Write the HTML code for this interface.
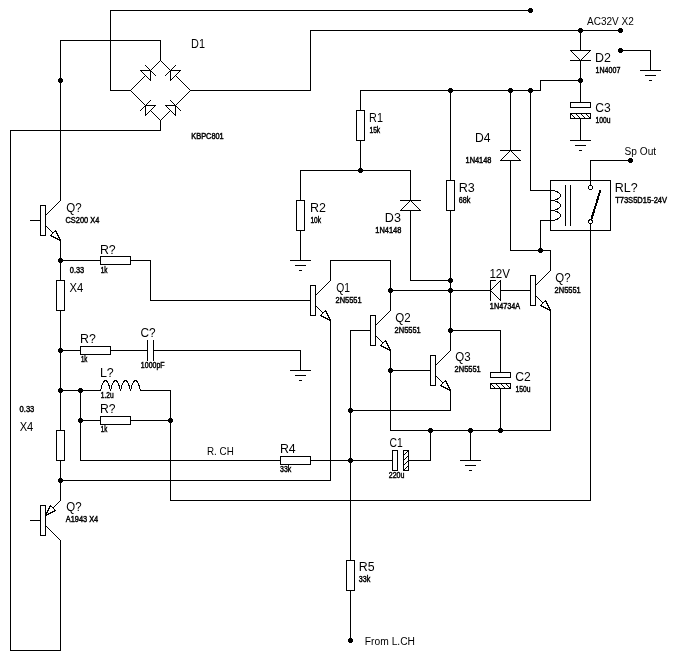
<!DOCTYPE html>
<html lang="en">
<head>
<meta charset="utf-8">
<title>Schematic</title>
<style>
html,body{margin:0;padding:0;background:#fff;}
body{width:690px;height:670px;overflow:hidden;}
svg{display:block;}
text{font-family:"Liberation Sans",sans-serif;fill:#000;}
text{font-kerning:none;}
.l{font-size:12.5px;}
.s{font-size:8.4px;stroke:#000;stroke-width:.45px;}
.m{font-size:10px;}
</style>
</head>
<body>
<svg width="690" height="670" viewBox="0 0 690 670">
<rect width="690" height="670" fill="#fff"/>
<g fill="#000" stroke="none" shape-rendering="crispEdges">
<rect x="110" y="10" width="421" height="1"/>
<rect x="110" y="10" width="1" height="81"/>
<rect x="110" y="90" width="21" height="1"/>
<rect x="160" y="40" width="1" height="21"/>
<rect x="60" y="40" width="101" height="1"/>
<rect x="60" y="40" width="1" height="161"/>
<rect x="160" y="120" width="1" height="11"/>
<rect x="10" y="130" width="151" height="1"/>
<rect x="10" y="130" width="1" height="521"/>
<rect x="10" y="650" width="51" height="1"/>
<rect x="60" y="540" width="1" height="111"/>
<rect x="190" y="90" width="121" height="1"/>
<rect x="310" y="30" width="1" height="61"/>
<rect x="310" y="30" width="311" height="1"/>
<rect x="580" y="30" width="1" height="73"/>
<rect x="580" y="118" width="1" height="23"/>
<rect x="570" y="140" width="21" height="1"/>
<rect x="575" y="145" width="11" height="1"/>
<rect x="579" y="150" width="3" height="1"/>
<rect x="570" y="60" width="21" height="1"/>
<rect x="570" y="102" width="21" height="6"/>
<rect x="571" y="103" width="19" height="4" fill="#fff"/>
<rect x="570" y="113" width="21" height="6"/>
<rect x="571" y="114" width="19" height="4" fill="#fff"/>
<rect x="571" y="114" width="1" height="1"/>
<rect x="572" y="115" width="1" height="1"/>
<rect x="573" y="116" width="1" height="1"/>
<rect x="574" y="117" width="1" height="1"/>
<rect x="576" y="114" width="1" height="1"/>
<rect x="577" y="115" width="1" height="1"/>
<rect x="578" y="116" width="1" height="1"/>
<rect x="579" y="117" width="1" height="1"/>
<rect x="581" y="114" width="1" height="1"/>
<rect x="582" y="115" width="1" height="1"/>
<rect x="583" y="116" width="1" height="1"/>
<rect x="584" y="117" width="1" height="1"/>
<rect x="586" y="114" width="1" height="1"/>
<rect x="587" y="115" width="1" height="1"/>
<rect x="588" y="116" width="1" height="1"/>
<rect x="589" y="117" width="1" height="1"/>
<rect x="620" y="50" width="31" height="1"/>
<rect x="650" y="50" width="1" height="21"/>
<rect x="640" y="70" width="21" height="1"/>
<rect x="645" y="75" width="11" height="1"/>
<rect x="649" y="80" width="3" height="1"/>
<rect x="540" y="80" width="41" height="1"/>
<rect x="540" y="80" width="1" height="11"/>
<rect x="360" y="90" width="181" height="1"/>
<rect x="360" y="90" width="1" height="81"/>
<rect x="356" y="110" width="9" height="31"/>
<rect x="357" y="111" width="7" height="29" fill="#fff"/>
<rect x="300" y="170" width="1" height="91"/>
<rect x="300" y="170" width="111" height="1"/>
<rect x="410" y="170" width="1" height="111"/>
<rect x="410" y="280" width="41" height="1"/>
<rect x="296" y="200" width="9" height="31"/>
<rect x="297" y="201" width="7" height="29" fill="#fff"/>
<rect x="290" y="260" width="21" height="1"/>
<rect x="295" y="265" width="11" height="1"/>
<rect x="299" y="270" width="3" height="1"/>
<rect x="400" y="200" width="21" height="1"/>
<rect x="450" y="90" width="1" height="261"/>
<rect x="446" y="180" width="9" height="31"/>
<rect x="447" y="181" width="7" height="29" fill="#fff"/>
<rect x="510" y="90" width="1" height="161"/>
<rect x="510" y="250" width="41" height="1"/>
<rect x="550" y="250" width="1" height="21"/>
<rect x="500" y="150" width="21" height="1"/>
<rect x="530" y="90" width="1" height="101"/>
<rect x="530" y="190" width="21" height="1"/>
<rect x="540" y="220" width="1" height="31"/>
<rect x="540" y="220" width="11" height="1"/>
<rect x="550" y="180" width="61" height="51"/>
<rect x="551" y="181" width="59" height="49" fill="#fff"/>
<rect x="565" y="185" width="1" height="41"/>
<rect x="570" y="185" width="1" height="41"/>
<rect x="590" y="160" width="41" height="1"/>
<rect x="590" y="160" width="1" height="26"/>
<rect x="590" y="224" width="1" height="277"/>
<rect x="170" y="500" width="421" height="1"/>
<rect x="170" y="390" width="1" height="111"/>
<rect x="390" y="290" width="101" height="1"/>
<rect x="500" y="290" width="31" height="1"/>
<rect x="490" y="280" width="1" height="21"/>
<rect x="490" y="280" width="6" height="1"/>
<rect x="530" y="275" width="6" height="31"/>
<rect x="531" y="276" width="4" height="29" fill="#fff"/>
<rect x="550" y="310" width="1" height="121"/>
<rect x="390" y="430" width="161" height="1"/>
<rect x="390" y="350" width="1" height="81"/>
<rect x="470" y="430" width="1" height="31"/>
<rect x="460" y="460" width="21" height="1"/>
<rect x="465" y="465" width="11" height="1"/>
<rect x="469" y="470" width="3" height="1"/>
<rect x="60" y="260" width="91" height="1"/>
<rect x="150" y="260" width="1" height="41"/>
<rect x="150" y="300" width="161" height="1"/>
<rect x="100" y="256" width="31" height="9"/>
<rect x="101" y="257" width="29" height="7" fill="#fff"/>
<rect x="310" y="285" width="6" height="31"/>
<rect x="311" y="286" width="4" height="29" fill="#fff"/>
<rect x="330" y="260" width="1" height="21"/>
<rect x="330" y="260" width="61" height="1"/>
<rect x="390" y="260" width="1" height="51"/>
<rect x="330" y="320" width="1" height="161"/>
<rect x="60" y="480" width="271" height="1"/>
<rect x="350" y="330" width="21" height="1"/>
<rect x="370" y="315" width="6" height="31"/>
<rect x="371" y="316" width="4" height="29" fill="#fff"/>
<rect x="390" y="370" width="41" height="1"/>
<rect x="430" y="355" width="6" height="31"/>
<rect x="431" y="356" width="4" height="29" fill="#fff"/>
<rect x="450" y="390" width="1" height="21"/>
<rect x="350" y="410" width="101" height="1"/>
<rect x="450" y="330" width="51" height="1"/>
<rect x="500" y="330" width="1" height="43"/>
<rect x="500" y="388" width="1" height="43"/>
<rect x="490" y="372" width="21" height="6"/>
<rect x="491" y="373" width="19" height="4" fill="#fff"/>
<rect x="490" y="383" width="21" height="6"/>
<rect x="491" y="384" width="19" height="4" fill="#fff"/>
<rect x="491" y="384" width="1" height="1"/>
<rect x="492" y="385" width="1" height="1"/>
<rect x="493" y="386" width="1" height="1"/>
<rect x="494" y="387" width="1" height="1"/>
<rect x="496" y="384" width="1" height="1"/>
<rect x="497" y="385" width="1" height="1"/>
<rect x="498" y="386" width="1" height="1"/>
<rect x="499" y="387" width="1" height="1"/>
<rect x="501" y="384" width="1" height="1"/>
<rect x="502" y="385" width="1" height="1"/>
<rect x="503" y="386" width="1" height="1"/>
<rect x="504" y="387" width="1" height="1"/>
<rect x="506" y="384" width="1" height="1"/>
<rect x="507" y="385" width="1" height="1"/>
<rect x="508" y="386" width="1" height="1"/>
<rect x="509" y="387" width="1" height="1"/>
<rect x="350" y="330" width="1" height="311"/>
<rect x="346" y="560" width="9" height="31"/>
<rect x="347" y="561" width="7" height="29" fill="#fff"/>
<rect x="80" y="460" width="313" height="1"/>
<rect x="408" y="460" width="23" height="1"/>
<rect x="430" y="430" width="1" height="31"/>
<rect x="280" y="456" width="31" height="9"/>
<rect x="281" y="457" width="29" height="7" fill="#fff"/>
<rect x="392" y="450" width="6" height="21"/>
<rect x="393" y="451" width="4" height="19" fill="#fff"/>
<rect x="403" y="450" width="6" height="21"/>
<rect x="404" y="451" width="4" height="19" fill="#fff"/>
<rect x="404" y="454" width="1" height="1"/>
<rect x="405" y="453" width="1" height="1"/>
<rect x="406" y="452" width="1" height="1"/>
<rect x="407" y="451" width="1" height="1"/>
<rect x="404" y="459" width="1" height="1"/>
<rect x="405" y="458" width="1" height="1"/>
<rect x="406" y="457" width="1" height="1"/>
<rect x="407" y="456" width="1" height="1"/>
<rect x="404" y="464" width="1" height="1"/>
<rect x="405" y="463" width="1" height="1"/>
<rect x="406" y="462" width="1" height="1"/>
<rect x="407" y="461" width="1" height="1"/>
<rect x="404" y="469" width="1" height="1"/>
<rect x="405" y="468" width="1" height="1"/>
<rect x="406" y="467" width="1" height="1"/>
<rect x="407" y="466" width="1" height="1"/>
<rect x="40" y="205" width="6" height="31"/>
<rect x="41" y="206" width="4" height="29" fill="#fff"/>
<rect x="30" y="220" width="11" height="1"/>
<rect x="60" y="240" width="1" height="261"/>
<rect x="56" y="280" width="9" height="31"/>
<rect x="57" y="281" width="7" height="29" fill="#fff"/>
<rect x="56" y="430" width="9" height="31"/>
<rect x="57" y="431" width="7" height="29" fill="#fff"/>
<rect x="40" y="505" width="6" height="31"/>
<rect x="41" y="506" width="4" height="29" fill="#fff"/>
<rect x="30" y="520" width="11" height="1"/>
<rect x="60" y="350" width="88" height="1"/>
<rect x="153" y="350" width="148" height="1"/>
<rect x="300" y="350" width="1" height="21"/>
<rect x="290" y="370" width="21" height="1"/>
<rect x="295" y="375" width="11" height="1"/>
<rect x="299" y="380" width="3" height="1"/>
<rect x="80" y="346" width="31" height="9"/>
<rect x="81" y="347" width="29" height="7" fill="#fff"/>
<rect x="147" y="340" width="1" height="21"/>
<rect x="153" y="340" width="1" height="21"/>
<rect x="60" y="390" width="41" height="1"/>
<rect x="140" y="390" width="31" height="1"/>
<rect x="80" y="390" width="1" height="71"/>
<rect x="80" y="420" width="91" height="1"/>
<rect x="100" y="416" width="31" height="9"/>
<rect x="101" y="417" width="29" height="7" fill="#fff"/>
</g>
<g fill="none" stroke="#000" stroke-width="1" stroke-linecap="square" stroke-linejoin="bevel" shape-rendering="crispEdges">
<circle cx="530.5" cy="10.5" r="2.6" stroke="none" fill="#000"/>
<circle cx="60.5" cy="80.5" r="2.6" stroke="none" fill="#000"/>
<circle cx="580.5" cy="30.5" r="2.6" stroke="none" fill="#000"/>
<circle cx="620.5" cy="30.5" r="2.6" stroke="none" fill="#000"/>
<line x1="130.5" y1="90.5" x2="160.5" y2="60.5" stroke-width="1"/>
<line x1="160.5" y1="60.5" x2="190.5" y2="90.5" stroke-width="1"/>
<line x1="190.5" y1="90.5" x2="160.5" y2="120.5" stroke-width="1"/>
<line x1="160.5" y1="120.5" x2="130.5" y2="90.5" stroke-width="1"/>
<polygon points="140.5,70.5 150.5,70.5 150.5,80.5" fill="#fff"/>
<line x1="145.5" y1="65.5" x2="155.5" y2="75.5" stroke-width="1"/>
<polygon points="170.5,70.5 180.5,70.5 170.5,80.5" fill="#fff"/>
<line x1="175.5" y1="65.5" x2="165.5" y2="75.5" stroke-width="1"/>
<polygon points="145.5,105.5 155.5,105.5 145.5,115.5" fill="#fff"/>
<line x1="150.5" y1="100.5" x2="140.5" y2="110.5" stroke-width="1"/>
<polygon points="165.5,105.5 175.5,105.5 175.5,115.5" fill="#fff"/>
<line x1="170.5" y1="100.5" x2="180.5" y2="110.5" stroke-width="1"/>
<polygon points="570.5,50.5 590.5,50.5 580.5,60.5" fill="#fff"/>
<circle cx="580.5" cy="80.5" r="2.6" stroke="none" fill="#000"/>
<circle cx="620.5" cy="50.5" r="2.6" stroke="none" fill="#000"/>
<circle cx="530.5" cy="90.5" r="2.6" stroke="none" fill="#000"/>
<circle cx="510.5" cy="90.5" r="2.6" stroke="none" fill="#000"/>
<circle cx="450.5" cy="90.5" r="2.6" stroke="none" fill="#000"/>
<circle cx="360.5" cy="170.5" r="2.6" stroke="none" fill="#000"/>
<polygon points="410.5,200.5 400.5,210.5 420.5,210.5" fill="#fff"/>
<circle cx="450.5" cy="280.5" r="2.6" stroke="none" fill="#000"/>
<circle cx="450.5" cy="290.5" r="2.6" stroke="none" fill="#000"/>
<circle cx="450.5" cy="330.5" r="2.6" stroke="none" fill="#000"/>
<polygon points="510.5,150.5 500.5,160.5 520.5,160.5" fill="#fff"/>
<circle cx="540.5" cy="250.5" r="2.6" stroke="none" fill="#000"/>
<path d="M550.5,190.5 A10,5 0 0 1 550.5,200.5 A10,5 0 0 1 550.5,210.5 A10,5 0 0 1 550.5,220.5" fill="none"/>
<circle cx="630.5" cy="160.5" r="2.6" stroke="none" fill="#000"/>
<circle cx="590.5" cy="187.5" r="2" fill="#fff"/>
<circle cx="590.5" cy="221.8" r="2" fill="#fff"/>
<line x1="591.6" y1="218.6" x2="600.4" y2="190.2" stroke-width="2" stroke-linecap="butt"/>
<polygon points="490.5,290.5 500.5,280.5 500.5,300.5" fill="#fff"/>
<line x1="535.5" y1="285.5" x2="550.5" y2="270.5" stroke-width="1"/>
<line x1="535.5" y1="295.5" x2="550.5" y2="310.5" stroke-width="1"/>
<polygon points="540.5,305.5 545.5,300.5 550.5,310.5" fill="#fff"/>
<circle cx="430.5" cy="430.5" r="2.6" stroke="none" fill="#000"/>
<circle cx="470.5" cy="430.5" r="2.6" stroke="none" fill="#000"/>
<circle cx="500.5" cy="430.5" r="2.6" stroke="none" fill="#000"/>
<line x1="315.5" y1="295.5" x2="330.5" y2="280.5" stroke-width="1"/>
<line x1="315.5" y1="305.5" x2="330.5" y2="320.5" stroke-width="1"/>
<polygon points="320.5,315.5 325.5,310.5 330.5,320.5" fill="#fff"/>
<circle cx="390.5" cy="290.5" r="2.6" stroke="none" fill="#000"/>
<line x1="375.5" y1="325.5" x2="390.5" y2="310.5" stroke-width="1"/>
<line x1="375.5" y1="335.5" x2="390.5" y2="350.5" stroke-width="1"/>
<polygon points="380.5,345.5 385.5,340.5 390.5,350.5" fill="#fff"/>
<circle cx="390.5" cy="370.5" r="2.6" stroke="none" fill="#000"/>
<line x1="435.5" y1="365.5" x2="450.5" y2="350.5" stroke-width="1"/>
<line x1="435.5" y1="375.5" x2="450.5" y2="390.5" stroke-width="1"/>
<polygon points="440.5,385.5 445.5,380.5 450.5,390.5" fill="#fff"/>
<circle cx="350.5" cy="410.5" r="2.6" stroke="none" fill="#000"/>
<circle cx="350.5" cy="460.5" r="2.6" stroke="none" fill="#000"/>
<circle cx="350.5" cy="640.5" r="2.6" stroke="none" fill="#000"/>
<line x1="45.5" y1="215.5" x2="60.5" y2="200.5" stroke-width="1"/>
<line x1="45.5" y1="225.5" x2="60.5" y2="240.5" stroke-width="1"/>
<polygon points="50.5,235.5 55.5,230.5 60.5,240.5" fill="#fff"/>
<circle cx="60.5" cy="260.5" r="2.6" stroke="none" fill="#000"/>
<circle cx="60.5" cy="350.5" r="2.6" stroke="none" fill="#000"/>
<circle cx="60.5" cy="390.5" r="2.6" stroke="none" fill="#000"/>
<circle cx="60.5" cy="480.5" r="2.6" stroke="none" fill="#000"/>
<line x1="45.5" y1="515.5" x2="60.5" y2="500.5" stroke-width="1"/>
<line x1="45.5" y1="525.5" x2="60.5" y2="540.5" stroke-width="1"/>
<polygon points="45.5,515.5 50.5,505.5 55.5,510.5" fill="#fff"/>
<circle cx="80.5" cy="390.5" r="2.6" stroke="none" fill="#000"/>
<path d="M100.5,390.5 Q105.5,370.5 110.5,390.5 Q115.5,370.5 120.5,390.5 Q125.5,370.5 130.5,390.5 Q135.5,370.5 140.5,390.5" fill="none"/>
<circle cx="80.5" cy="420.5" r="2.6" stroke="none" fill="#000"/>
<circle cx="170.5" cy="420.5" r="2.6" stroke="none" fill="#000"/>
</g>
<g opacity="0.999">
<text class="l" transform="translate(191.11,48) scale(0.871,1)">D1</text>
<text class="l" transform="translate(66.20,212) scale(0.922,1)">Q?</text>
<text class="l" transform="translate(99.89,254) scale(0.987,1)">R?</text>
<text class="l" transform="translate(69.55,292) scale(0.901,1)">X4</text>
<text class="l" transform="translate(79.99,343) scale(0.987,1)">R?</text>
<text class="l" transform="translate(140.40,337) scale(0.948,1)">C?</text>
<text class="l" transform="translate(99.88,377) scale(0.999,1)">L?</text>
<text class="l" transform="translate(99.90,413) scale(0.973,1)">R?</text>
<text class="l" transform="translate(19.65,431) scale(0.895,1)">X4</text>
<text class="l" transform="translate(66.21,511) scale(0.919,1)">Q?</text>
<text class="l" transform="translate(279.89,453) scale(0.987,1)">R4</text>
<text class="l" transform="translate(369.11,122) scale(0.865,1)">R1</text>
<text class="l" transform="translate(309.88,212) scale(0.998,1)">R2</text>
<text class="l" transform="translate(458.77,192) scale(1.007,1)">R3</text>
<text class="l" transform="translate(384.87,222) scale(1.007,1)">D3</text>
<text class="l" transform="translate(475.00,142) scale(0.973,1)">D4</text>
<text class="l" transform="translate(594.88,62) scale(0.998,1)">D2</text>
<text class="l" transform="translate(595.29,112) scale(0.967,1)">C3</text>
<text class="l" transform="translate(614.78,192) scale(0.998,1)">RL?</text>
<text class="l" transform="translate(555.36,282) scale(0.916,1)">Q?</text>
<text class="l" transform="translate(489.42,278) scale(0.928,1)">12V</text>
<text class="l" transform="translate(336.31,292) scale(0.827,1)">Q1</text>
<text class="l" transform="translate(395.35,322) scale(0.925,1)">Q2</text>
<text class="l" transform="translate(455.35,361) scale(0.921,1)">Q3</text>
<text class="l" transform="translate(515.28,381) scale(0.972,1)">C2</text>
<text class="l" transform="translate(389.47,447) scale(0.828,1)">C1</text>
<text class="l" transform="translate(358.78,571) scale(0.991,1)">R5</text>
<text class="s" transform="translate(191.29,139) scale(0.880,1)">KBPC801</text>
<text class="s" transform="translate(65.52,223) scale(0.883,1)">CS200 X4</text>
<text class="s" transform="translate(69.81,273) scale(0.882,1)">0.33</text>
<text class="s" transform="translate(100.71,273) scale(0.764,1)">1k</text>
<text class="s" transform="translate(80.93,362) scale(0.728,1)">1k</text>
<text class="s" transform="translate(140.87,368) scale(0.832,1)">1000pF</text>
<text class="s" transform="translate(100.79,398) scale(0.792,1)">1.2u</text>
<text class="s" transform="translate(100.83,432) scale(0.728,1)">1k</text>
<text class="s" transform="translate(19.60,412) scale(0.901,1)">0.33</text>
<text class="s" transform="translate(65.79,522) scale(0.879,1)">A1943 X4</text>
<text class="s" transform="translate(280.03,472) scale(0.831,1)">33k</text>
<text class="s" transform="translate(369.49,133) scale(0.790,1)">15k</text>
<text class="s" transform="translate(310.39,223) scale(0.790,1)">10k</text>
<text class="s" transform="translate(458.63,203) scale(0.861,1)">68k</text>
<text class="s" transform="translate(375.33,233) scale(0.887,1)">1N4148</text>
<text class="s" transform="translate(465.53,163) scale(0.883,1)">1N4148</text>
<text class="s" transform="translate(595.56,73) scale(0.843,1)">1N4007</text>
<text class="s" transform="translate(595.58,123) scale(0.806,1)">100u</text>
<text class="s" transform="translate(615.13,203) scale(0.898,1)">T73S5D15-24V</text>
<text class="s" transform="translate(554.62,293) scale(0.888,1)">2N5551</text>
<text class="s" transform="translate(489.85,309) scale(0.867,1)">1N4734A</text>
<text class="s" transform="translate(335.52,303) scale(0.888,1)">2N5551</text>
<text class="s" transform="translate(394.62,333) scale(0.888,1)">2N5551</text>
<text class="s" transform="translate(454.62,372) scale(0.888,1)">2N5551</text>
<text class="s" transform="translate(515.58,392) scale(0.806,1)">150u</text>
<text class="s" transform="translate(388.75,478) scale(0.836,1)">220u</text>
<text class="s" transform="translate(358.73,582) scale(0.854,1)">33k</text>
<text class="m" transform="translate(586.98,25) scale(1.003,1)">AC32V X2</text>
<text class="m" transform="translate(624.54,155) scale(1.016,1)">Sp Out</text>
<text class="m" transform="translate(206.99,455) scale(0.985,1)">R. CH</text>
<text class="m" transform="translate(364.86,645) scale(1.026,1)">From L.CH</text>
</g>
</svg>
</body>
</html>
